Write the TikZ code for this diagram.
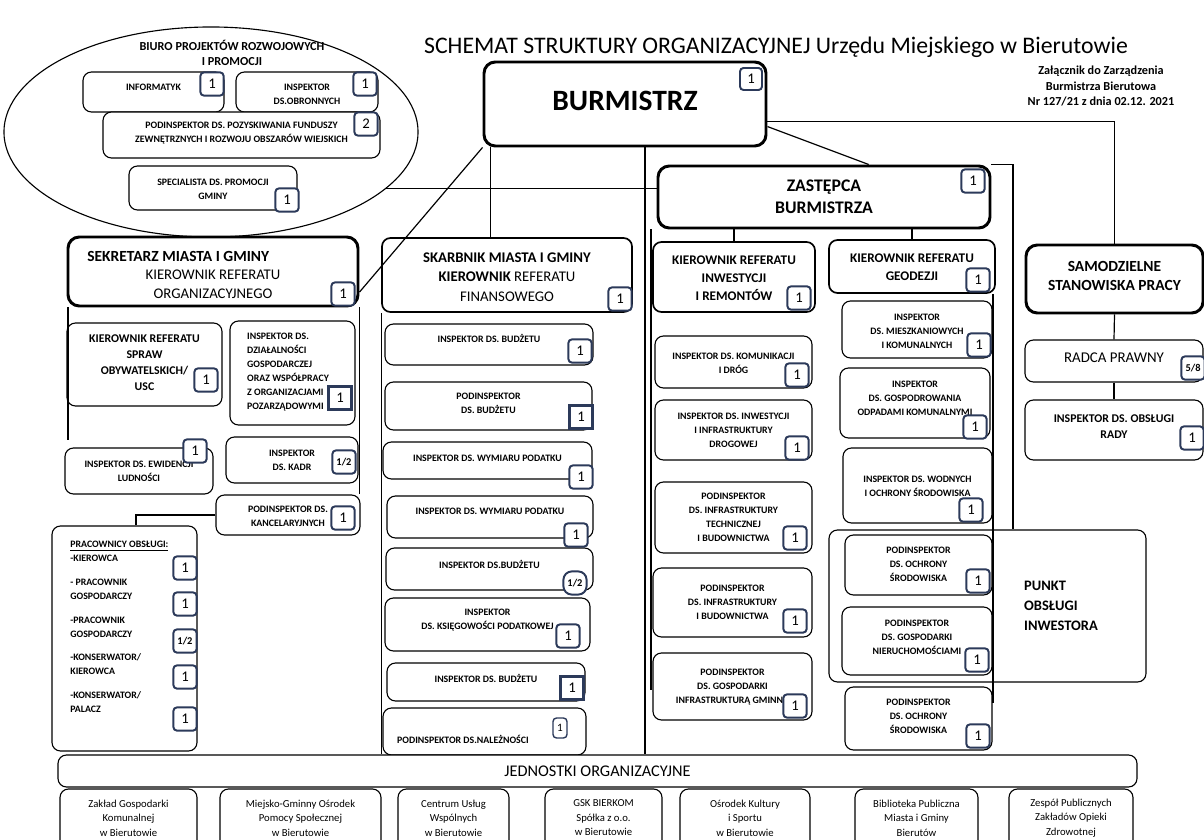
\documentclass[tikz,border=0pt]{standalone}
\usepackage{fontspec}
\setmainfont{Carlito}
\usepackage{tikz}
\usetikzlibrary{shapes.geometric, positioning, calc}
\definecolor{badgeblue}{HTML}{2C3A5A}
\tikzstyle{box} = [draw, fill=white, rectangle, rounded corners=6pt, line width=0.8pt]
\tikzstyle{mbox} = [box, line width=1.2pt]
\tikzstyle{boss} = [box, rounded corners=8pt, line width=2.1pt]
\tikzstyle{fsmall} = [font=\fontsize{7}{9.9}\selectfont\bfseries]
\tikzstyle{fmid} = [font=\fontsize{8.4}{11.4}\selectfont\bfseries]
\tikzstyle{fhead} = [font=\fontsize{9.4}{12.8}\selectfont\bfseries]
\tikzstyle{fbig} = [font=\fontsize{11}{13}\selectfont\bfseries]
\tikzstyle{fsek} = [font=\fontsize{10.5}{13.4}\selectfont]
\tikzstyle{fskarb} = [font=\fontsize{10.5}{14}\selectfont]
\tikzstyle{fzast} = [font=\fontsize{12.6}{15.6}\selectfont\bfseries]
\tikzstyle{fburm} = [font=\fontsize{21}{24}\selectfont\bfseries]
\tikzstyle{fpunkt} = [font=\fontsize{10.3}{14}\selectfont\bfseries]
\tikzstyle{fjedn} = [font=\fontsize{11.6}{13}\selectfont]
\tikzstyle{fradca} = [font=\fontsize{10.6}{12}\selectfont]
\tikzstyle{funit} = [font=\fontsize{7.6}{10.3}\selectfont]
\tikzstyle{txt} = [align=center, inner sep=0pt, fsmall]
\tikzstyle{badge} = [draw=badgeblue, fill=white, rectangle, rounded corners=2.5pt, line width=1.4pt, minimum size=0.58cm, inner sep=0pt, font=\fontsize{10.5}{11}\selectfont]
\tikzstyle{badgedark} = [badge, rounded corners=0pt, line width=2.4pt]
\tikzstyle{frac} = [font=\fontsize{7.4}{8}\selectfont\bfseries]
\tikzstyle{link} = [line width=0.85pt]
% box from corner (#3,#4) to (#5,#6), text centred at height #7
\newcommand{\orgbox}[9][box]{%
  \node[#1, minimum width={(#5-#3)*0.025cm}, minimum height={(#6-#4)*0.025cm}] (#2) at ({(#3+#5)/2},{(#4+#6)/2}) {};
  \node[txt, #8] (#2-t) at ({(#3+#5)/2},#7) {#9};}

\begin{document}
\begin{tikzpicture}[x=0.025cm, y=-0.025cm]
    \useasboundingbox (0,0) rectangle (1204,840);
    \clip (0,0) rectangle (1204,840);
    \fill[white] (0,0) rectangle (1204,840);

    \node[font=\fontsize{16.9}{18}\selectfont] (title) at (776,47) {SCHEMAT STRUKTURY ORGANIZACYJNEJ Urzędu Miejskiego w Bierutowie};
    \node[align=center, font=\fontsize{8.7}{11}\selectfont\bfseries] (note) at (1101,86) {Załącznik do Zarządzenia\\Burmistrza Bierutowa\\Nr 127/21 z dnia 02.12. 2021};

    % biuro
    \node[draw, ellipse, line width=0.8pt, minimum width=10.35cm, minimum height=5.25cm] (biuro) at (211,132) {};
    \node[txt, font=\fontsize{8.7}{10.6}\selectfont\bfseries] (biuro-t) at (232,53) {BIURO PROJEKTÓW ROZWOJOWYCH\\I PROMOCJI};
    \orgbox{inf}{83}{72}{224}{112}{87}{}{INFORMATYK}
    \orgbox{obr}{236}{72}{378}{112}{94}{}{INSPEKTOR\\DS.OBRONNYCH}
    \orgbox{pozysk}{103}{112}{380}{158}{133}{}{PODINSPEKTOR DS. POZYSKIWANIA FUNDUSZY\\ZEWNĘTRZNYCH I ROZWOJU OBSZARÓW WIEJSKICH}
    \orgbox{promo}{129}{166}{297}{210}{189}{}{SPECIALISTA DS. PROMOCJI\\GMINY}

    \orgbox[boss]{burm}{484}{62}{766}{146}{101}{fburm}{BURMISTRZ}
    \orgbox[boss]{zast}{658}{166}{990}{228}{197}{fzast}{ZASTĘPCA\\BURMISTRZA}

    % sekretarz
    \orgbox[boss]{sekr}{68}{237}{358}{306}{256}{fbig, xshift=-0.87cm}{SEKRETARZ MIASTA I GMINY}
    \node[txt, fsek] (sekr-t2) at (213,284) {KIEROWNIK REFERATU\\ORGANIZACYJNEGO};
    \orgbox{usc}{67}{323}{222}{406}{363}{fmid}{KIEROWNIK REFERATU\\SPRAW\\OBYWATELSKICH/\\USC}
    \orgbox{dzial}{230}{321}{355}{425}{372}{align=left, anchor=west, xshift=-1.14cm}{INSPEKTOR DS.\\DZIAŁALNOŚCI\\GOSPODARCZEJ\\ORAZ WSPÓŁPRACY\\Z ORGANIZACJAMI\\POZARZĄDOWYMI}
    \orgbox{ewid}{65}{448}{213}{494}{471}{}{INSPEKTOR DS. EWIDENCJI\\LUDNOŚCI}
    \orgbox{kadr}{226}{437}{358}{483}{460}{}{INSPEKTOR\\DS. KADR}
    \orgbox{kanc}{216}{495}{360}{535}{516}{}{PODINSPEKTOR DS.\\KANCELARYJNYCH}
    \orgbox{prac}{52}{526}{197}{751}{541}{align=left, anchor=north west, xshift=-1.36cm}{\underline{PRACOWNICY OBSŁUGI:}\\-KIEROWCA\\[7pt]- PRACOWNIK\\GOSPODARCZY\\[7pt]-PRACOWNIK\\GOSPODARCZY\\[7pt]-KONSERWATOR/\\KIEROWCA\\[7pt]-KONSERWATOR/\\PALACZ}

    % skarbnik
    \orgbox[mbox]{skarb}{382}{238}{632}{312}{277}{fskarb}{\textbf{SKARBNIK MIASTA I GMINY}\\\textbf{KIEROWNIK} REFERATU\\FINANSOWEGO}
    \orgbox{s1}{385}{324}{593}{365}{338}{}{INSPEKTOR DS. BUDŻETU}
    \orgbox{s2}{385}{382}{592}{430}{403}{}{PODINSPEKTOR\\DS. BUDŻETU}
    \orgbox{s3}{383}{442}{592}{479}{458}{}{INSPEKTOR DS. WYMIARU PODATKU}
    \orgbox{s4}{387}{496}{593}{538}{511}{}{INSPEKTOR DS. WYMIARU PODATKU}
    \orgbox{s5}{386}{548}{593}{590}{564}{}{INSPEKTOR DS.BUDŻETU}
    \orgbox{s6}{385}{598}{590}{651}{620}{}{INSPEKTOR\\DS. KSIĘGOWOŚCI PODATKOWEJ}
    \orgbox{s7}{387}{663}{585}{701}{678}{}{INSPEKTOR DS. BUDŻETU}
    \orgbox{s8}{383}{708}{586}{755}{739}{anchor=west, xshift=-2.19cm}{PODINSPEKTOR DS.NALEŻNOŚCI}

    % inwestycje
    \orgbox[mbox]{inw}{653}{242}{815}{312}{278}{fhead}{KIEROWNIK REFERATU\\INWESTYCJI\\I REMONTÓW}
    \orgbox{i1}{655}{336}{812}{388}{363}{}{INSPEKTOR DS. KOMUNIKACJI\\I DRÓG}
    \orgbox{i2}{655}{400}{812}{460}{430}{}{INSPEKTOR DS. INWESTYCJI\\I INFRASTRUKTURY\\DROGOWEJ}
    \orgbox{i3}{655}{482}{812}{553}{517}{}{PODINSPEKTOR\\DS. INFRASTRUKTURY\\TECHNICZNEJ\\I BUDOWNICTWA}
    \orgbox{i4}{653}{568}{812}{637}{602}{}{PODINSPEKTOR\\DS. INFRASTRUKTURY\\I BUDOWNICTWA}
    \orgbox{i5}{653}{653}{812}{720}{687}{}{PODINSPEKTOR\\DS. GOSPODARKI\\INFRASTRUKTURĄ GMINNĄ}

    % geodezja
    \orgbox[mbox]{geo}{829}{240}{995}{293}{267}{fhead}{KIEROWNIK REFERATU\\GEODEZJI}
    \orgbox{g1}{842}{301}{992}{358}{331}{}{INSPEKTOR\\DS. MIESZKANIOWYCH\\I KOMUNALNYCH}
    \orgbox{g2}{840}{368}{990}{438}{398}{}{INSPEKTOR\\DS. GOSPODROWANIA\\ODPADAMI KOMUNALNYMI}
    \orgbox{g3}{843}{448}{992}{523}{486}{}{INSPEKTOR DS. WODNYCH\\I OCHRONY ŚRODOWISKA}
    \orgbox{punkt}{829}{530}{1146}{682}{606}{fpunkt, align=left, anchor=west, xshift=0.91cm}{PUNKT\\OBSŁUGI\\INWESTORA}
    \orgbox{p1}{845}{535}{992}{595}{564}{}{PODINSPEKTOR\\DS. OCHRONY\\ŚRODOWISKA}
    \orgbox{p2}{842}{607}{992}{675}{637}{}{PODINSPEKTOR\\DS. GOSPODARKI\\NIERUCHOMOŚCIAMI}
    \orgbox{p3}{845}{687}{992}{750}{716}{}{PODINSPEKTOR\\DS. OCHRONY\\ŚRODOWISKA}

    % samodzielne
    \orgbox[boss]{samo}{1026}{245}{1203}{313}{276}{fbig}{SAMODZIELNE\\STANOWISKA PRACY}
    \orgbox{radca}{1025}{340}{1203}{382}{358}{fradca}{RADCA PRAWNY}
    \orgbox{rady}{1025}{400}{1203}{460}{427}{fmid}{INSPEKTOR DS. OBSŁUGI\\RADY}

    % jednostki
    \orgbox{jedn}{58}{755}{1137}{787}{771}{fjedn}{JEDNOSTKI ORGANIZACYJNE}
    \orgbox{zgk}{60}{789}{197}{850}{818}{funit}{Zakład Gospodarki\\Komunalnej\\w Bierutowie}
    \orgbox{mgops}{220}{789}{381}{850}{818}{funit}{Miejsko-Gminny Ośrodek\\Pomocy Społecznej\\w Bierutowie}
    \orgbox{cuw}{398}{789}{509}{850}{818}{funit}{Centrum Usług\\Wspólnych\\w Bierutowie}
    \orgbox{gsk}{545}{789}{662}{850}{818}{funit}{GSK BIERKOM\\Spółka z o.o.\\w Bierutowie}
    \orgbox{okis}{680}{789}{810}{850}{818}{funit}{Ośrodek Kultury\\i Sportu\\w Bierutowie}
    \orgbox{bib}{855}{789}{978}{850}{818}{funit}{Biblioteka Publiczna\\Miasta i Gminy\\Bierutów}
    \orgbox{zpzoz}{1009}{789}{1133}{850}{818}{funit}{Zespół Publicznych\\Zakładów Opieki\\Zdrowotnej}

    % etaty
    \node[badge] (inf-b) at (212,84) {1};
    \node[badge] (obr-b) at (365,84) {1};
    \node[badge] (pozysk-b) at (366,124) {2};
    \node[badge] (promo-b) at (287,200) {1};
    \node[badge, minimum size=0.55cm] (burm-b) at (751,79) {1};
    \node[badge] (zast-b) at (973,181) {1};
    \node[badge] (sekr-b) at (343,294) {1};
    \node[badge] (usc-b) at (206,380) {1};
    \node[badgedark] (dzial-b) at (340,398) {1};
    \node[badge] (ewid-b) at (195,451) {1};
    \node[badge, frac] (kadr-b) at (344,462) {1/2};
    \node[badge] (kanc-b) at (343,518) {1};
    \node[badge] (prac-b1) at (185,568) {1};
    \node[badge] (prac-b2) at (185,604) {1};
    \node[badge, frac] (prac-b3) at (185,641) {1/2};
    \node[badge] (prac-b4) at (185,677) {1};
    \node[badge] (prac-b5) at (185,719) {1};
    \node[badge] (skarb-b) at (620,299) {1};
    \node[badge] (s1-b) at (580,351) {1};
    \node[badgedark] (s2-b) at (581,417) {1};
    \node[badge] (s3-b) at (581,477) {1};
    \node[badge] (s4-b) at (576,535) {1};
    \node[badge, frac, rounded corners=6pt] (s5-b) at (575,583) {1/2};
    \node[badge] (s6-b) at (568,636) {1};
    \node[badgedark] (s7-b) at (572,688) {1};
    \node[badge, minimum width=0.35cm, minimum height=0.5cm, line width=1pt, font=\fontsize{8}{9}\selectfont] (s8-b) at (560,728) {1};
    \node[badge] (inw-b) at (799,298) {1};
    \node[badge] (i1-b) at (797,375) {1};
    \node[badge] (i2-b) at (797,448) {1};
    \node[badge] (i3-b) at (795,538) {1};
    \node[badge] (i4-b) at (795,621) {1};
    \node[badge] (i5-b) at (795,706) {1};
    \node[badge] (geo-b) at (978,280) {1};
    \node[badge] (g1-b) at (979,345) {1};
    \node[badge] (g2-b) at (975,427) {1};
    \node[badge] (g3-b) at (971,510) {1};
    \node[badge] (p1-b) at (978,581) {1};
    \node[badge] (p2-b) at (977,660) {1};
    \node[badge] (p3-b) at (978,736) {1};
    \node[badge, frac] (radca-b) at (1193,368) {5/8};
    \node[badge] (rady-b) at (1192,438) {1};

    % connectors
    \coordinate (bs) at ($(burm.south west)+(8,0)$);
    \coordinate (sekrleft) at (68,440);
    \coordinate (inwspine) at (651,690);
    \coordinate (geospine) at (993,703);
    \draw[link] (burm.-7) -| (samo.north);
    \draw[link] (burm.-9) -- (zast.36);
    \draw[link] (burm.south west) -- (sekr.-8);
    \draw[link] (bs) -- (bs |- skarb.north);
    \draw[link] (burm.south -| 645,0) -- (jedn.north -| 645,0);
    \draw[link] (biuro.-18) -- (zast.west |- biuro.-18);
    \draw[link] (zast.north east) -| (punkt.north -| 1013,0);
    \draw[link] (inw.north |- zast.south) -- (inw.north);
    \draw[link] (geo.north |- zast.south) -- (geo.north);
    \draw[link] (inwspine |- zast.south) -- (inwspine);
    \draw[link] (geospine |- geo.south) -- (geospine);
    \draw[link] (samo.south) -- (radca.north);
    \draw[link] (radca.south) -- (rady.north);
    \draw[link] (sekrleft |- sekr.south) -- (sekrleft);
    \draw[link] (sekr.south east) -- (sekr.south east |- kanc.north);
    \draw[link] (skarb.south west) -- (skarb.south west |- jedn.north);
    \draw[link] (kanc.west) -| (prac.north -| 136,0);
\end{tikzpicture}
\end{document}
